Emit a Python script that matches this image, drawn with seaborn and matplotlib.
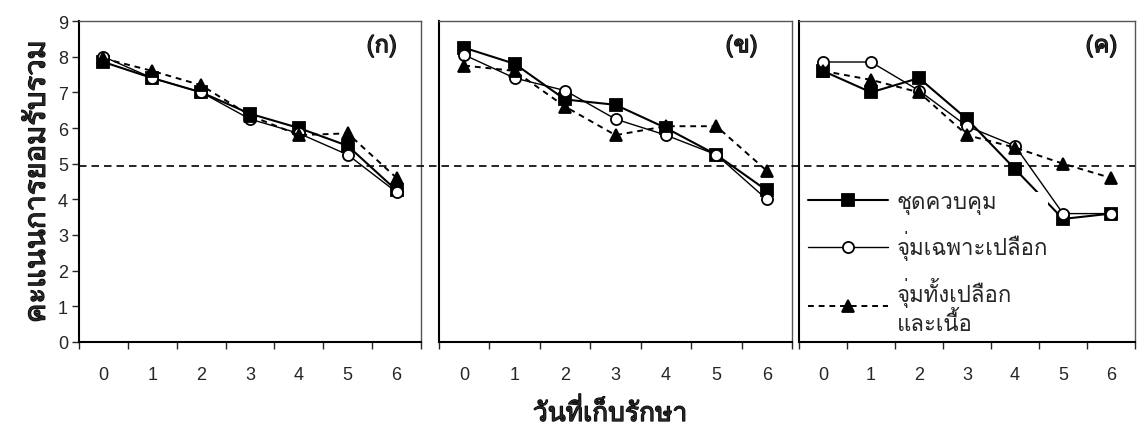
import numpy as np
import pandas as pd
import matplotlib
matplotlib.use("Agg")
import matplotlib.pyplot as plt
import matplotlib.transforms as mtrans
import matplotlib.patheffects as pe
from matplotlib import font_manager, ft2font
from matplotlib.ticker import FixedLocator
import seaborn as sns

# storage days and panel names
days = [0, 1, 2, 3, 4, 5, 6]
panels = ["(ก)", "(ข)", "(ค)"]
series_names = ["ชุดควบคุม", "จุ่มเฉพาะเปลือก", "จุ่มทั้งเปลือก\nและเนื้อ"]

# overall acceptance scores, one list per panel
control = [[7.85, 7.4, 7.0, 6.4, 6.0, 5.5, 4.25],
           [8.25, 7.8, 6.8, 6.65, 6.0, 5.25, 4.25],
           [7.6, 7.0, 7.4, 6.25, 4.85, 3.45, 3.6]]
peel_only = [[8.0, 7.4, 7.0, 6.25, 5.85, 5.25, 4.2],
             [8.05, 7.4, 7.05, 6.25, 5.8, 5.25, 4.0],
             [7.85, 7.85, 7.05, 6.05, 5.5, 3.6, 3.6]]
peel_flesh = [[7.95, 7.6, 7.2, 6.35, 5.8, 5.85, 4.6],
              [7.75, 7.6, 6.6, 5.8, 6.05, 6.05, 4.8],
              [7.6, 7.35, 7.0, 5.8, 5.45, 5.0, 4.6]]
limit_score = 4.93


def thai_font():
    for f in font_manager.fontManager.ttflist:
        try:
            if 0x0E01 in ft2font.FT2Font(f.fname).get_charmap():
                return f.name
        except Exception:
            pass
    return "DejaVu Sans"


sns.set_style("ticks")
THAI = thai_font()
plt.rcParams["font.family"] = ["Liberation Sans", THAI, "DejaVu Sans"]
thai_fam = [THAI, "Liberation Sans", "DejaVu Sans"]
fake_bold = [pe.withStroke(linewidth=0.9, foreground="black")]

fig = plt.figure(figsize=(11.37, 4.35), dpi=100)
W, H = 1137.0, 435.0
boxes = [(79, 421), (439, 792), (799, 1135)]
bottom, top = (H - 343) / H, (H - 22) / H
axes = [fig.add_axes([l / W, bottom, (r - l) / W, top - bottom]) for l, r in boxes]

styles = [dict(marker="s", markerfacecolor="black", linestyle="-", linewidth=1.5, markersize=8),
          dict(marker="o", markerfacecolor="white", linestyle="-", linewidth=1.0, markersize=8),
          dict(marker="^", markerfacecolor="black", linestyle=(0, (3, 2.5)), linewidth=1.4, markersize=8.5)]

for i, ax in enumerate(axes):
    for name, vals, st in zip(series_names, [control[i], peel_only[i], peel_flesh[i]], styles):
        sns.lineplot(x=days, y=vals, ax=ax, color="black", markeredgecolor="black",
                     markeredgewidth=1.3, label=name if i == 2 else None, legend=False, **st)
    ax.set_xlim(-0.5, 6.5)
    ax.set_ylim(0, 9)
    ax.set_xticks(days)
    ax.set_xticklabels([str(d) for d in days], fontsize=13)
    ax.xaxis.set_minor_locator(FixedLocator(np.arange(-0.5, 7, 1)))
    ax.tick_params(axis="x", which="major", length=0, pad=17)
    ax.tick_params(axis="x", which="minor", length=5, width=1, direction="out")
    ax.text([0.885, 0.857, 0.9][i], 0.923, panels[i], transform=ax.transAxes,
            ha="center", va="center", fontsize=17, family=thai_fam, path_effects=fake_bold)
    for s in ["left", "bottom"]:
        ax.spines[s].set_color("black")
        ax.spines[s].set_linewidth(1.5)
    for s in ["top", "right"]:
        ax.spines[s].set_color("#555555")
        ax.spines[s].set_linewidth(1.0)
    ax.set_xlabel("")
    ax.set_ylabel("")
    if i == 0:
        ax.set_yticks(range(10))
        ax.set_yticklabels([str(v) for v in range(10)], fontsize=13)
        ax.tick_params(axis="y", length=5, width=1, direction="out", pad=3)
    else:
        ax.set_yticks([])

axes[0].set_ylabel("คะแนนการยอมรับรวม", fontsize=21, family=thai_fam,
                   path_effects=fake_bold, labelpad=5)

# dashed limit line across the whole figure, gaps included
tr = mtrans.blended_transform_factory(fig.transFigure, axes[0].transData)
fig.add_artist(plt.Line2D([79 / W, 1135 / W], [limit_score, limit_score], transform=tr,
                          color="black", linewidth=1.2, linestyle=(0, (4.5, 3))))

fig.text(610 / W, 1 - 413 / H, "วันที่เก็บรักษา", ha="center", va="center",
         fontsize=19, family=thai_fam, path_effects=fake_bold)

axes[2].legend(loc="upper left", bbox_to_anchor=(0.027, 0.468), frameon=True,
               edgecolor="none", facecolor="white", framealpha=1,
               prop={"family": thai_fam, "size": 16},
               handlelength=3.6, labelspacing=0.75, borderpad=0, borderaxespad=0,
               handletextpad=0.4)

fig.savefig("out.png", dpi=100)
